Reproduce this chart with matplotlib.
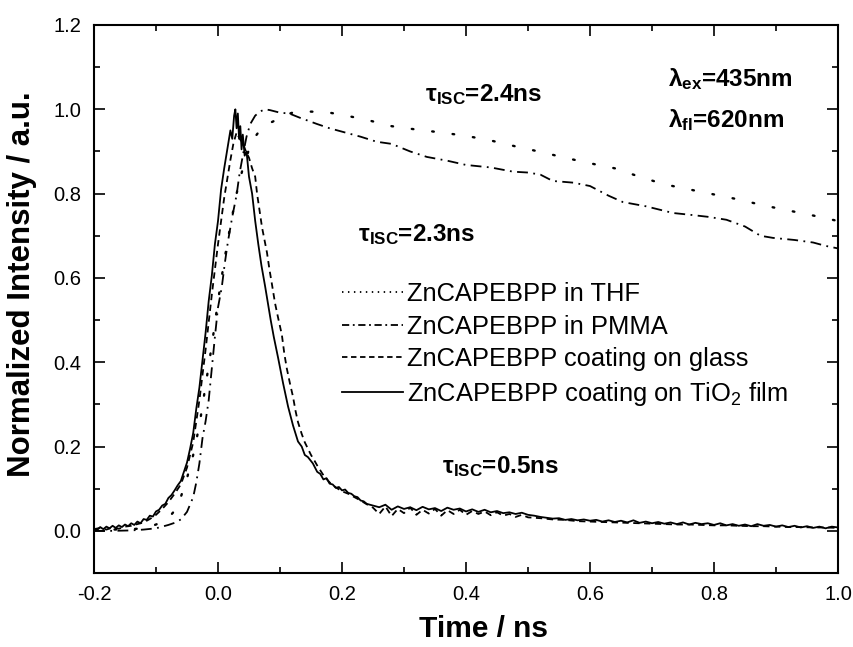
import matplotlib
matplotlib.use("Agg")
import matplotlib.pyplot as plt
from matplotlib.lines import Line2D
from matplotlib.ticker import MultipleLocator, FormatStrFormatter

plt.rcParams['font.family'] = ['Liberation Sans', 'DejaVu Sans']
plt.rcParams['mathtext.fontset'] = 'custom'
plt.rcParams['mathtext.rm'] = 'Liberation Sans'
plt.rcParams['mathtext.bf'] = 'Liberation Sans:bold'
plt.rcParams['mathtext.it'] = 'Liberation Sans:italic'
plt.rcParams['axes.unicode_minus'] = False

# ZnCAPEBPP coating on TiO2 film (solid)
t_tio2 = [-0.200, -0.195, -0.190, -0.185, -0.180, -0.175, -0.170, -0.165, -0.160, -0.155,
          -0.150, -0.145, -0.140, -0.135, -0.130, -0.125, -0.120, -0.115, -0.110, -0.105,
          -0.100, -0.095, -0.090, -0.085, -0.080, -0.075, -0.070, -0.065, -0.060, -0.055,
          -0.050, -0.045, -0.040, -0.035, -0.030, -0.025, -0.020, -0.015, -0.010, -0.005,
          0.000, 0.005, 0.010, 0.015, 0.020, 0.023, 0.026, 0.028, 0.030, 0.032,
          0.034, 0.036, 0.038, 0.040, 0.043, 0.046, 0.050, 0.055, 0.060, 0.065,
          0.070, 0.076, 0.080, 0.085, 0.090, 0.097, 0.105, 0.113, 0.121, 0.129,
          0.135, 0.140, 0.145, 0.153, 0.160, 0.165, 0.170, 0.175, 0.180, 0.185,
          0.190, 0.195, 0.200, 0.205, 0.210, 0.215, 0.220, 0.225, 0.230, 0.235,
          0.240, 0.25, 0.26, 0.27, 0.28, 0.29, 0.30, 0.31, 0.32, 0.33,
          0.34, 0.35, 0.36, 0.37, 0.38, 0.39, 0.40, 0.41, 0.42, 0.43,
          0.44, 0.45, 0.46, 0.47, 0.48, 0.49, 0.50, 0.51, 0.52, 0.53,
          0.54, 0.55, 0.56, 0.57, 0.58, 0.59, 0.60, 0.61, 0.62, 0.63,
          0.64, 0.65, 0.66, 0.67, 0.68, 0.69, 0.70, 0.71, 0.72, 0.73,
          0.74, 0.75, 0.76, 0.77, 0.78, 0.79, 0.80, 0.81, 0.82, 0.83,
          0.84, 0.85, 0.86, 0.87, 0.88, 0.89, 0.90, 0.91, 0.92, 0.93,
          0.94, 0.95, 0.96, 0.97, 0.98, 0.99, 1.00]
i_tio2 = [0.006, 0.002, 0.009, 0.004, 0.010, 0.006, 0.012, 0.007, 0.013, 0.009,
          0.015, 0.011, 0.018, 0.014, 0.022, 0.018, 0.028, 0.026, 0.036, 0.034,
          0.046, 0.050, 0.060, 0.064, 0.078, 0.085, 0.096, 0.108, 0.118, 0.140,
          0.162, 0.195, 0.232, 0.290, 0.340, 0.405, 0.470, 0.545, 0.605, 0.680,
          0.735, 0.810, 0.860, 0.905, 0.950, 0.930, 0.985, 1.000, 0.955, 0.990,
          0.930, 0.960, 0.905, 0.940, 0.890, 0.900, 0.840, 0.800, 0.735, 0.680,
          0.630, 0.580, 0.545, 0.500, 0.460, 0.410, 0.350, 0.295, 0.250, 0.212,
          0.200, 0.180, 0.175, 0.160, 0.140, 0.135, 0.122, 0.125, 0.112, 0.110,
          0.102, 0.104, 0.096, 0.098, 0.090, 0.088, 0.082, 0.080, 0.072, 0.070,
          0.064, 0.060, 0.056, 0.062, 0.050, 0.058, 0.052, 0.056, 0.049, 0.057,
          0.051, 0.054, 0.047, 0.055, 0.050, 0.053, 0.046, 0.051, 0.045, 0.050,
          0.044, 0.047, 0.042, 0.044, 0.040, 0.043, 0.038, 0.036, 0.033, 0.031,
          0.029, 0.030, 0.026, 0.028, 0.025, 0.027, 0.024, 0.026, 0.022, 0.025,
          0.021, 0.024, 0.020, 0.025, 0.019, 0.022, 0.018, 0.021, 0.017, 0.020,
          0.016, 0.020, 0.015, 0.019, 0.016, 0.018, 0.014, 0.018, 0.013, 0.016,
          0.012, 0.015, 0.011, 0.016, 0.012, 0.014, 0.010, 0.013, 0.009, 0.012,
          0.008, 0.011, 0.007, 0.010, 0.006, 0.010, 0.008]

# ZnCAPEBPP coating on glass (dashed)
t_glass = [-0.20, -0.19, -0.18, -0.17, -0.16, -0.15, -0.14, -0.13, -0.12, -0.11,
           -0.10, -0.09, -0.08, -0.07, -0.06, -0.05, -0.04, -0.03, -0.02, -0.01,
           0.00, 0.01, 0.02, 0.025, 0.030, 0.035, 0.040, 0.045, 0.050, 0.055,
           0.060, 0.063, 0.067, 0.071, 0.075, 0.079, 0.083, 0.087, 0.092, 0.097,
           0.103, 0.107, 0.111, 0.116, 0.121, 0.125, 0.129, 0.135, 0.140, 0.145,
           0.150, 0.155, 0.160, 0.170, 0.180, 0.190, 0.200, 0.210, 0.220, 0.230,
           0.240, 0.25, 0.26, 0.27, 0.28, 0.29, 0.30, 0.31, 0.32, 0.33,
           0.34, 0.35, 0.36, 0.37, 0.38, 0.39, 0.40, 0.41, 0.42, 0.43,
           0.44, 0.45, 0.46, 0.47, 0.48, 0.49, 0.50, 0.52, 0.54, 0.56,
           0.58, 0.60, 0.62, 0.64, 0.66, 0.68, 0.70, 0.72, 0.74, 0.76,
           0.78, 0.80, 0.82, 0.84, 0.86, 0.88, 0.90, 0.92, 0.94, 0.96,
           0.98, 1.00]
i_glass = [0.004, 0.007, 0.003, 0.008, 0.005, 0.010, 0.012, 0.016, 0.020, 0.028,
           0.038, 0.052, 0.068, 0.088, 0.110, 0.150, 0.210, 0.310, 0.430, 0.560,
           0.680, 0.790, 0.880, 0.920, 0.945, 0.930, 0.920, 0.900, 0.885, 0.860,
           0.840, 0.800, 0.760, 0.720, 0.690, 0.660, 0.620, 0.585, 0.540, 0.505,
           0.465, 0.420, 0.385, 0.350, 0.318, 0.285, 0.258, 0.230, 0.210, 0.195,
           0.180, 0.168, 0.155, 0.132, 0.115, 0.103, 0.094, 0.088, 0.080, 0.072,
           0.063, 0.055, 0.040, 0.058, 0.035, 0.052, 0.042, 0.055, 0.038, 0.050,
           0.041, 0.052, 0.036, 0.049, 0.040, 0.050, 0.038, 0.047, 0.040, 0.046,
           0.037, 0.044, 0.036, 0.040, 0.033, 0.038, 0.032, 0.030, 0.027, 0.026,
           0.023, 0.022, 0.021, 0.020, 0.019, 0.018, 0.017, 0.016, 0.015, 0.015,
           0.014, 0.013, 0.013, 0.012, 0.011, 0.011, 0.010, 0.009, 0.009, 0.008,
           0.008, 0.007]

# ZnCAPEBPP in THF (dotted)
t_thf = [-0.20, -0.17, -0.14, -0.12, -0.11, -0.10, -0.09, -0.08, -0.07, -0.06,
         -0.05, -0.04, -0.03, -0.02, -0.01, 0.00, 0.01, 0.02, 0.03, 0.04,
         0.05, 0.06, 0.07, 0.08, 0.09, 0.10, 0.12, 0.14, 0.16, 0.18,
         0.20, 0.24, 0.28, 0.32, 0.36, 0.40, 0.44, 0.48, 0.52, 0.56,
         0.60, 0.64, 0.68, 0.72, 0.76, 0.80, 0.84, 0.88, 0.92, 0.96, 1.00]
i_thf = [0.002, 0.003, 0.004, 0.006, 0.010, 0.015, 0.022, 0.030, 0.048, 0.080,
         0.125, 0.180, 0.250, 0.345, 0.440, 0.545, 0.640, 0.725, 0.800, 0.860,
         0.905, 0.935, 0.955, 0.965, 0.972, 0.982, 0.992, 0.995, 0.994, 0.992,
         0.987, 0.975, 0.960, 0.952, 0.945, 0.937, 0.926, 0.912, 0.899, 0.885,
         0.872, 0.860, 0.840, 0.822, 0.810, 0.798, 0.786, 0.772, 0.760, 0.748, 0.735]

# ZnCAPEBPP in PMMA (dash-dot)
t_pmma = [-0.20, -0.17, -0.14, -0.12, -0.10, -0.09, -0.08, -0.07, -0.06, -0.05,
          -0.04, -0.035, -0.03, -0.025, -0.02, -0.015, -0.01, -0.005, 0.000, 0.006,
          0.011, 0.016, 0.023, 0.030, 0.035, 0.040, 0.046, 0.052, 0.060, 0.068,
          0.076, 0.084, 0.100, 0.115, 0.132, 0.16, 0.18, 0.20, 0.23, 0.256,
          0.28, 0.31, 0.337, 0.37, 0.40, 0.44, 0.476, 0.50, 0.52, 0.54,
          0.573, 0.60, 0.63, 0.653, 0.69, 0.734, 0.76, 0.79, 0.82, 0.85,
          0.875, 0.895, 0.93, 0.96, 0.98, 1.00]
i_pmma = [0.000, 0.000, 0.001, 0.003, 0.006, 0.010, 0.014, 0.019, 0.027, 0.045,
          0.080, 0.115, 0.160, 0.220, 0.260, 0.310, 0.385, 0.460, 0.530, 0.577,
          0.635, 0.686, 0.745, 0.797, 0.850, 0.890, 0.935, 0.965, 0.985, 0.995,
          1.000, 0.998, 0.992, 0.990, 0.980, 0.965, 0.955, 0.947, 0.935, 0.923,
          0.918, 0.900, 0.887, 0.878, 0.868, 0.862, 0.852, 0.850, 0.845, 0.830,
          0.826, 0.818, 0.795, 0.780, 0.770, 0.754, 0.750, 0.745, 0.738, 0.722,
          0.700, 0.695, 0.690, 0.684, 0.676, 0.670]

labels = ['ZnCAPEBPP in THF', 'ZnCAPEBPP in PMMA',
          'ZnCAPEBPP coating on glass', 'ZnCAPEBPP coating on TiO$_2$ film']

fig = plt.figure(figsize=(8.54, 6.47), dpi=100)
ax = fig.add_axes([94 / 854, 74 / 647, 744 / 854, 548 / 647])

lw = 1.3
ax.plot(t_thf, i_thf, color='black', lw=1.7, linestyle=(0, (0.7, 8)),
        dash_capstyle='round')
ax.plot(t_pmma, i_pmma, color='black', lw=lw, linestyle=(0, (6, 3, 1, 3)))
ax.plot(t_glass, i_glass, color='black', lw=lw, linestyle=(0, (3.5, 2.5)))
ax.plot(t_tio2, i_tio2, color='black', lw=lw, linestyle='-')

ax.set_xlim(-0.2, 1.0)
ax.set_ylim(-0.1, 1.2)
ax.xaxis.set_major_locator(MultipleLocator(0.2))
ax.xaxis.set_minor_locator(MultipleLocator(0.1))
ax.yaxis.set_major_locator(MultipleLocator(0.2))
ax.yaxis.set_minor_locator(MultipleLocator(0.1))
ax.xaxis.set_major_formatter(FormatStrFormatter('%.1f'))
ax.yaxis.set_major_formatter(FormatStrFormatter('%.1f'))
ax.tick_params(which='both', direction='in', top=True, right=True, width=1.2)
ax.tick_params(which='major', length=8, labelsize=14.5, pad=9)
ax.tick_params(which='minor', length=4.5)
for s in ax.spines.values():
    s.set_linewidth(1.5)

ax.set_xlabel('Time / ns', fontsize=21.5, fontweight='bold')
ax.set_ylabel('Normalized Intensity / a.u.', fontsize=22.5, fontweight='bold')
ax.xaxis.set_label_coords(0.523, -0.077)
ax.yaxis.set_label_coords(-0.077, 0.527)

# legend with short-period line samples
handles = [
    Line2D([], [], color='black', lw=1.3, linestyle=(0, (0.8, 2.5))),
    Line2D([], [], color='black', lw=1.3, linestyle=(0, (4, 2, 1, 2))),
    Line2D([], [], color='black', lw=1.3, linestyle=(0, (3, 2))),
    Line2D([], [], color='black', lw=1.3, linestyle='-'),
]
ax.legend(handles, labels, loc='upper left', bbox_to_anchor=((342 - 94) / 744, (573 - 282) / 548),
          frameon=False, fontsize=18.4, handlelength=2.4, handletextpad=0.16,
          labelspacing=0.34, borderpad=0, borderaxespad=0)

txt = dict(fontsize=17.5, fontweight='bold', ha='left', va='baseline')
ax.text(0.334, 1.020, r'τ$_{\mathbf{ISC}}$=2.4ns', **txt)
ax.text(0.226, 0.688, r'τ$_{\mathbf{ISC}}$=2.3ns', **txt)
ax.text(0.361, 0.138, r'τ$_{\mathbf{ISC}}$=0.5ns', **txt)
ax.text(0.726, 1.056, r'λ$_{\mathbf{ex}}$=435nm', **txt)
ax.text(0.726, 0.958, r'λ$_{\mathbf{fl}}$=620nm', **txt)

fig.savefig('out.png', dpi=100)
